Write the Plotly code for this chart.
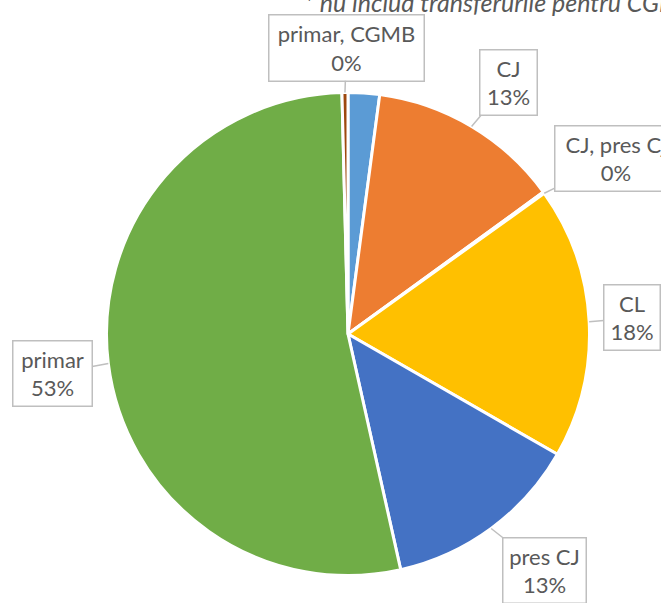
import math
import plotly.graph_objects as go

# ---- data ----
labels = ["CGMB", "CJ", "CJ, pres CJ", "CL", "pres CJ", "primar", "primar, CGMB"]
values = [2.1, 12.9, 0.1, 18.2, 13.2, 53.1, 0.4]
colors = ["#5B9BD5", "#ED7D31", "#A5A5A5", "#FFC000", "#4472C4", "#70AD47", "#9E480E"]
label_shown = ["", "CJ", "CJ, pres Cj", "CL", "pres CJ", "primar", "primar, CGMB"]
note_text = "* nu includ transferurile pentru CGMB"

# ---- layout constants ----
W, H = 661, 603
CX, CY, R = 348, 334, 241.5
FONT = "Lato, Open Sans, sans-serif"
# callout boxes: (center x, center y, width, height, pointer mode) in px
boxes = {
    "CJ": (508.5, 82.5, 59, 67, "mid"),
    "CJ, pres CJ": (616, 158.5, 124, 67, "end"),
    "CL": (632, 317.5, 58, 67, "mid"),
    "pres CJ": (544.5, 570.5, 85, 67, "mid"),
    "primar": (52.5, 373.5, 81, 67, "mid"),
    "primar, CGMB": (346.5, 47.5, 157, 68, "mid"),
}

fig = go.Figure()
fig.add_trace(go.Pie(
    labels=labels, values=values, sort=False, direction="clockwise", rotation=0,
    marker=dict(colors=colors, line=dict(color="white", width=3)),
    textinfo="none", hoverinfo="label+percent", showlegend=False,
    domain=dict(x=[(CX - R) / W, (CX + R) / W], y=[1 - (CY + R) / H, 1 - (CY - R) / H]),
))

total = sum(values)
cum = 0.0
annotations = []
for lab, v, shown in zip(labels, values, label_shown):
    start = cum
    cum += v
    if lab not in boxes:
        continue
    bx, by, bw, bh, mode = boxes[lab]
    frac = (start + v / 2) / total if mode == "mid" else cum / total
    ang = 2 * math.pi * frac
    tx = CX + R * math.sin(ang)
    ty = CY - R * math.cos(ang)
    pct = round(100 * v / total)
    annotations.append(dict(
        x=tx / W, y=1 - ty / H, xref="paper", yref="paper",
        ax=bx - tx, ay=by - ty, axref="pixel", ayref="pixel",
        text=f"{shown}<br>{pct}%", showarrow=True, arrowhead=0, arrowwidth=1.5,
        arrowcolor="#BFBFBF", standoff=0,
        bordercolor="#BFBFBF", borderwidth=1.5, borderpad=0, bgcolor="white",
        width=bw - 3, height=bh - 3, align="center", valign="middle",
        font=dict(family=FONT, size=22, color="#595959"),
    ))

annotations.append(dict(
    x=302 / W, y=1 - 2 / H, xref="paper", yref="paper", xanchor="left", yanchor="middle",
    text=f"<i>{note_text}</i>", showarrow=False,
    font=dict(family=FONT, size=25, color="#595959"),
))

fig.update_layout(
    width=W, height=H, margin=dict(l=0, r=0, t=0, b=0),
    paper_bgcolor="white", plot_bgcolor="white", annotations=annotations,
)
fig.write_html("out.html", config={"displayModeBar": False},
               post_script="document.body.style.margin='0';")
